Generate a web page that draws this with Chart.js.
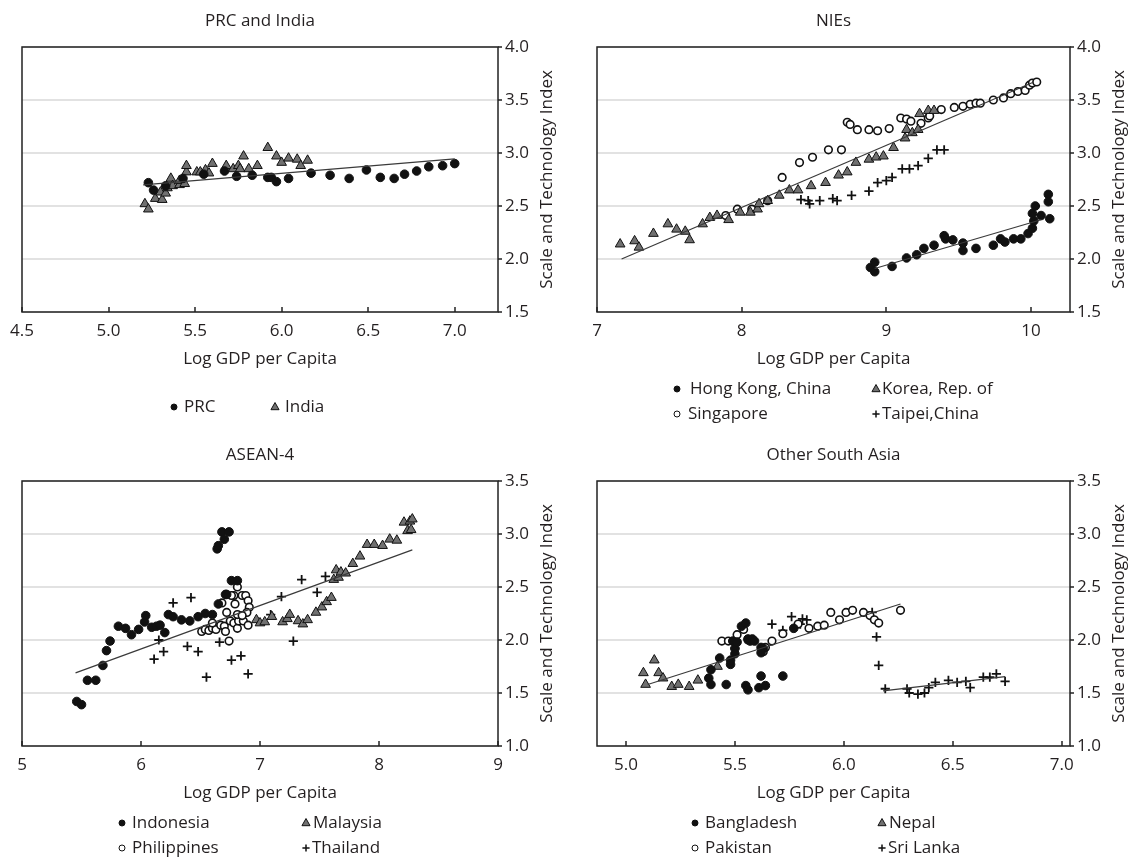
<!DOCTYPE html>
<html>
<head>
<meta charset="utf-8">
<script src="https://cdn.jsdelivr.net/npm/chart.js@4.4.1/dist/chart.umd.min.js"></script>
<style>
  body { margin: 0; background: #fff; }
  .wrap { position: relative; width: 1133px; height: 859px; }
  .wrap canvas { position: absolute; }
</style>
</head>
<body>
<div class="wrap">
  <canvas id="prcChart" style="left:0;top:0" width="566" height="430"></canvas>
  <canvas id="niesChart" style="left:566px;top:0" width="567" height="430"></canvas>
  <canvas id="aseanChart" style="left:0;top:430px" width="566" height="429"></canvas>
  <canvas id="southAsiaChart" style="left:566px;top:430px" width="567" height="429"></canvas>
</div>
<script>
// ---- data: [log GDP per capita, scale and technology index] ----
const prc = [[5.23,2.72],[5.26,2.65],[5.33,2.69],[5.43,2.76],[5.55,2.80],[5.67,2.83],[5.74,2.78],[5.83,2.79],[5.92,2.77],[5.94,2.77],[5.97,2.73],[6.04,2.76],[6.17,2.81],[6.28,2.79],[6.39,2.76],[6.49,2.84],[6.57,2.77],[6.65,2.76],[6.71,2.80],[6.78,2.83],[6.85,2.87],[6.93,2.88],[7.00,2.90]];
const india = [[5.21,2.52],[5.23,2.47],[5.27,2.57],[5.30,2.63],[5.31,2.56],[5.33,2.62],[5.34,2.67],[5.36,2.76],[5.37,2.69],[5.41,2.70],[5.41,2.74],[5.44,2.71],[5.45,2.82],[5.45,2.88],[5.51,2.82],[5.53,2.82],[5.56,2.84],[5.58,2.81],[5.60,2.90],[5.68,2.88],[5.72,2.85],[5.75,2.88],[5.76,2.85],[5.78,2.97],[5.81,2.85],[5.86,2.88],[5.92,3.05],[5.97,2.97],[6.00,2.91],[6.04,2.95],[6.09,2.94],[6.11,2.88],[6.15,2.93]];
const prcIndiaTrend = [[5.20,2.70],[7.00,2.945]];

const hongKong = [[8.89,1.92],[8.92,1.97],[8.92,1.88],[9.04,1.93],[9.14,2.01],[9.21,2.04],[9.26,2.10],[9.33,2.13],[9.40,2.22],[9.41,2.19],[9.46,2.18],[9.53,2.15],[9.53,2.08],[9.62,2.10],[9.74,2.13],[9.79,2.19],[9.82,2.16],[9.88,2.19],[9.93,2.19],[9.98,2.24],[10.01,2.29],[10.02,2.36],[10.01,2.43],[10.03,2.50],[10.07,2.41],[10.12,2.61],[10.12,2.54],[10.13,2.38]];
const korea = [[7.16,2.14],[7.26,2.17],[7.29,2.11],[7.39,2.24],[7.49,2.33],[7.55,2.28],[7.61,2.26],[7.64,2.18],[7.73,2.33],[7.78,2.39],[7.83,2.41],[7.91,2.37],[7.99,2.44],[8.06,2.44],[8.11,2.47],[8.12,2.52],[8.18,2.55],[8.26,2.60],[8.33,2.65],[8.39,2.65],[8.48,2.69],[8.58,2.72],[8.67,2.79],[8.73,2.82],[8.79,2.91],[8.88,2.94],[8.93,2.96],[8.98,2.97],[9.05,3.05],[9.13,3.14],[9.14,3.22],[9.18,3.19],[9.22,3.22],[9.23,3.37],[9.29,3.40],[9.33,3.40]];
const singapore = [[7.89,2.41],[7.97,2.47],[8.07,2.47],[8.18,2.55],[8.28,2.77],[8.40,2.91],[8.49,2.96],[8.60,3.03],[8.69,3.03],[8.73,3.29],[8.75,3.27],[8.80,3.22],[8.88,3.22],[8.94,3.21],[9.02,3.23],[9.10,3.33],[9.14,3.32],[9.17,3.30],[9.24,3.28],[9.29,3.33],[9.30,3.35],[9.38,3.41],[9.47,3.43],[9.53,3.44],[9.58,3.46],[9.62,3.47],[9.65,3.47],[9.74,3.50],[9.81,3.52],[9.86,3.56],[9.91,3.58],[9.96,3.59],[9.99,3.64],[10.01,3.66],[10.04,3.67]];
const taipei = [[8.41,2.56],[8.46,2.55],[8.47,2.52],[8.54,2.55],[8.63,2.57],[8.66,2.55],[8.76,2.60],[8.88,2.64],[8.94,2.72],[9.00,2.74],[9.04,2.77],[9.11,2.85],[9.16,2.85],[9.22,2.88],[9.29,2.95],[9.35,3.03],[9.40,3.03]];
const niesTrend = [[7.17,2.00],[10.02,3.67]];
const hongKongTrend = [[8.92,1.91],[10.07,2.37]];

const indonesia = [[5.46,1.42],[5.50,1.39],[5.55,1.62],[5.62,1.62],[5.68,1.76],[5.71,1.90],[5.74,1.99],[5.81,2.13],[5.87,2.11],[5.92,2.05],[5.98,2.10],[6.03,2.17],[6.04,2.23],[6.09,2.12],[6.13,2.13],[6.16,2.14],[6.20,2.07],[6.23,2.24],[6.27,2.22],[6.34,2.19],[6.41,2.18],[6.48,2.22],[6.54,2.25],[6.60,2.24],[6.65,2.34],[6.64,2.86],[6.65,2.89],[6.68,3.02],[6.70,2.95],[6.74,3.02],[6.71,2.43],[6.72,2.43],[6.76,2.56],[6.81,2.56]];
const malaysia = [[6.97,2.19],[7.00,2.16],[7.04,2.17],[7.10,2.22],[7.19,2.17],[7.23,2.20],[7.25,2.24],[7.32,2.18],[7.36,2.15],[7.40,2.19],[7.47,2.26],[7.52,2.31],[7.56,2.36],[7.60,2.40],[7.62,2.57],[7.64,2.66],[7.66,2.59],[7.68,2.64],[7.72,2.63],[7.78,2.72],[7.84,2.79],[7.90,2.90],[7.96,2.90],[8.03,2.89],[8.09,2.95],[8.15,2.94],[8.21,3.11],[8.24,3.03],[8.26,3.12],[8.27,3.04],[8.28,3.14]];
const philippines = [[6.51,2.08],[6.54,2.10],[6.57,2.09],[6.60,2.11],[6.63,2.10],[6.60,2.16],[6.67,2.14],[6.70,2.13],[6.71,2.08],[6.74,1.99],[6.72,2.26],[6.75,2.18],[6.78,2.16],[6.81,2.11],[6.82,2.18],[6.81,2.24],[6.79,2.34],[6.78,2.42],[6.76,2.42],[6.81,2.50],[6.85,2.42],[6.88,2.42],[6.90,2.37],[6.91,2.31],[6.89,2.26],[6.86,2.18],[6.90,2.14],[6.85,2.23],[6.68,2.35]];
const thailand = [[6.11,1.82],[6.15,2.00],[6.19,1.89],[6.27,2.35],[6.39,1.94],[6.42,2.40],[6.48,1.89],[6.55,1.65],[6.66,1.98],[6.76,1.81],[6.84,1.85],[6.90,1.68],[7.09,2.24],[7.18,2.41],[7.28,1.99],[7.35,2.57],[7.48,2.45],[7.55,2.60]];
const aseanTrend = [[5.45,1.69],[8.28,2.85]];

const bangladesh = [[5.38,1.64],[5.39,1.58],[5.39,1.72],[5.43,1.83],[5.46,1.58],[5.48,1.77],[5.48,1.81],[5.49,1.99],[5.50,1.92],[5.50,1.87],[5.51,1.98],[5.53,2.13],[5.55,2.16],[5.55,1.57],[5.56,1.53],[5.56,2.01],[5.57,1.99],[5.58,2.01],[5.59,1.99],[5.61,1.55],[5.62,1.66],[5.62,1.93],[5.63,1.92],[5.62,1.88],[5.64,1.57],[5.72,1.66],[5.77,2.11]];
const nepal = [[5.08,1.69],[5.13,1.81],[5.15,1.69],[5.17,1.64],[5.09,1.58],[5.21,1.56],[5.24,1.58],[5.29,1.56],[5.33,1.62],[5.42,1.75]];
const pakistan = [[5.44,1.99],[5.47,1.99],[5.51,2.05],[5.54,2.10],[5.56,2.00],[5.63,1.89],[5.64,1.93],[5.67,1.99],[5.72,2.06],[5.79,2.15],[5.84,2.11],[5.88,2.13],[5.91,2.14],[5.94,2.26],[5.98,2.19],[6.01,2.26],[6.04,2.28],[6.09,2.26],[6.12,2.23],[6.14,2.19],[6.16,2.16],[6.26,2.28]];
const sriLanka = [[5.49,1.98],[5.50,1.92],[5.67,2.15],[5.72,2.09],[5.76,2.22],[5.80,2.15],[5.81,2.20],[5.83,2.19],[6.13,2.26],[6.15,2.03],[6.16,1.76],[6.19,1.54],[6.29,1.54],[6.30,1.50],[6.34,1.49],[6.37,1.50],[6.39,1.55],[6.42,1.60],[6.48,1.62],[6.52,1.60],[6.56,1.61],[6.58,1.55],[6.64,1.65],[6.67,1.65],[6.70,1.68],[6.74,1.61]];
const bangladeshTrend = [[5.10,1.58],[6.26,2.34]];
const sriLankaTrend = [[6.18,1.52],[6.74,1.655]];

const INK = '#231f20';
const FONT = '17px "Open Sans", sans-serif';
Chart.defaults.font.family = '"Open Sans", sans-serif';
Chart.defaults.font.size = 17;
Chart.defaults.color = INK;

const pts = arr => arr.map(p => ({x: p[0], y: p[1]}));

// marker looks, shared by the plots and the legends
const markers = {
  dot:   {pointStyle: 'circle',   backgroundColor: '#111', borderColor: '#111', borderWidth: 1,   pointRadius: 4.3},
  ring:  {pointStyle: 'circle',   backgroundColor: '#fff', borderColor: '#111', borderWidth: 1.6, pointRadius: 3.8},
  tri:   {pointStyle: 'triangle', backgroundColor: '#707070', borderColor: '#111', borderWidth: 1, pointRadius: 5.6},
  cross: {pointStyle: 'cross',    backgroundColor: '#111', borderColor: '#111', borderWidth: 1.8, pointRadius: 4.6}
};

function drawMarker(ctx, style, x, y, r) {
  const m = markers[style];
  ctx.save();
  ctx.fillStyle = m.backgroundColor;
  ctx.strokeStyle = m.borderColor;
  ctx.lineWidth = style === 'cross' ? 1.5 : 1;
  ctx.beginPath();
  if (style === 'tri') {
    ctx.moveTo(x, y - r);
    ctx.lineTo(x + r * 0.9, y + r * 0.6);
    ctx.lineTo(x - r * 0.9, y + r * 0.6);
    ctx.closePath();
    ctx.fill(); ctx.stroke();
  } else if (style === 'cross') {
    ctx.moveTo(x - r, y); ctx.lineTo(x + r, y);
    ctx.moveTo(x, y - r); ctx.lineTo(x, y + r);
    ctx.stroke();
  } else {
    ctx.arc(x, y, r, 0, Math.PI * 2);
    ctx.fill(); ctx.stroke();
  }
  ctx.restore();
}

// box, inner x ticks, panel title, rotated y title and legend
const panelDecor = {
  id: 'panelDecor',
  afterDraw(chart, args, opts) {
    const {ctx, chartArea: a} = chart;
    const xs = chart.scales.x;
    ctx.save();
    ctx.strokeStyle = '#222';
    ctx.lineWidth = 1.5;
    xs.ticks.forEach(t => {
      const px = Math.round(xs.getPixelForValue(t.value));
      ctx.beginPath();
      ctx.moveTo(px, a.bottom);
      ctx.lineTo(px, a.bottom - 5);
      ctx.stroke();
    });
    ctx.strokeRect(a.left, a.top, a.right - a.left, a.bottom - a.top);

    ctx.fillStyle = INK;
    ctx.font = FONT;
    ctx.textAlign = 'center';
    ctx.textBaseline = 'middle';
    ctx.fillText(opts.title, (a.left + a.right) / 2, a.top - 26);

    ctx.save();
    ctx.translate(a.right + 49, (a.top + a.bottom) / 2);
    ctx.rotate(-Math.PI / 2);
    ctx.fillText('Scale and Technology Index', 0, 0);
    ctx.restore();

    ctx.textAlign = 'left';
    opts.legend.forEach(item => {
      const r = item.style === 'tri' ? 4.5 : (item.style === 'cross' ? 3.6 : 3);
      drawMarker(ctx, item.style, a.left + item.mx, a.bottom + item.dy, r);
      ctx.fillStyle = INK;
      ctx.fillText(item.label, a.left + item.tx, a.bottom + item.dy);
    });
    ctx.restore();
  }
};

function series(data, style) {
  const m = markers[style];
  return {
    type: 'scatter',
    data: pts(data),
    pointStyle: m.pointStyle,
    backgroundColor: m.backgroundColor,
    borderColor: m.borderColor,
    borderWidth: m.borderWidth,
    pointRadius: m.pointRadius,
    pointHoverRadius: m.pointRadius
  };
}

function trend(data) {
  return {
    type: 'line',
    data: pts(data),
    borderColor: '#3a3a3a',
    borderWidth: 1.2,
    pointRadius: 0,
    fill: false,
    order: -1
  };
}

function makePanel(id, p) {
  const ctx = document.getElementById(id).getContext('2d');
  new Chart(ctx, {
    type: 'scatter',
    data: {datasets: p.datasets},
    options: {
      responsive: false,
      animation: false,
      layout: {padding: p.padding},
      plugins: {
        legend: {display: false},
        tooltip: {enabled: false},
        panelDecor: {title: p.title, legend: p.legend}
      },
      scales: {
        x: {
          type: 'linear',
          min: p.xMin, max: p.xMax,
          border: {display: false},
          grid: {display: false, drawTicks: false},
          ticks: {
            stepSize: p.xStep,
            includeBounds: false,
            padding: 9,
            color: INK,
            callback: v => p.xDigits ? v.toFixed(p.xDigits) : String(v)
          },
          title: {display: true, text: 'Log GDP per Capita', color: INK, padding: {top: 0, bottom: 0}},
          afterFit: s => { s.height = 57; }
        },
        y: {
          type: 'linear',
          position: 'right',
          min: p.yMin, max: p.yMax,
          border: {display: false},
          grid: {color: '#e2e2e2', lineWidth: 2, tickColor: '#222', tickWidth: 1.5, tickLength: 4},
          ticks: {stepSize: 0.5, padding: 3, color: INK, callback: v => v.toFixed(1)},
          afterFit: s => { s.width = 63; }
        }
      }
    },
    plugins: [panelDecor]
  });
}

makePanel('prcChart', {
  title: 'PRC and India',
  padding: {left: 22, top: 47, right: 5, bottom: 61},
  xMin: 4.5, xMax: 7.25, xStep: 0.5, xDigits: 1,
  yMin: 1.5, yMax: 4.0,
  datasets: [trend(prcIndiaTrend), series(prc, 'dot'), series(india, 'tri')],
  legend: [
    {label: 'PRC', style: 'dot', mx: 152, tx: 162, dy: 95},
    {label: 'India', style: 'tri', mx: 253, tx: 263, dy: 95}
  ]
});

makePanel('niesChart', {
  title: 'NIEs',
  padding: {left: 31, top: 47, right: 0, bottom: 61},
  xMin: 7, xMax: 10.27, xStep: 1, xDigits: 0,
  yMin: 1.5, yMax: 4.0,
  datasets: [trend(niesTrend), trend(hongKongTrend), series(hongKong, 'dot'), series(korea, 'tri'), series(singapore, 'ring'), series(taipei, 'cross')],
  legend: [
    {label: 'Hong Kong, China', style: 'dot', mx: 80, tx: 93, dy: 77},
    {label: 'Korea, Rep. of', style: 'tri', mx: 279, tx: 285, dy: 77},
    {label: 'Singapore', style: 'ring', mx: 80, tx: 91, dy: 102},
    {label: 'Taipei,China', style: 'cross', mx: 279, tx: 285, dy: 102}
  ]
});

makePanel('aseanChart', {
  title: 'ASEAN-4',
  padding: {left: 22, top: 51, right: 5, bottom: 56},
  xMin: 5, xMax: 9, xStep: 1, xDigits: 0,
  yMin: 1.0, yMax: 3.5,
  datasets: [trend(aseanTrend), series(indonesia, 'dot'), series(philippines, 'ring'), series(malaysia, 'tri'), series(thailand, 'cross')],
  legend: [
    {label: 'Indonesia', style: 'dot', mx: 100, tx: 110, dy: 77},
    {label: 'Malaysia', style: 'tri', mx: 284, tx: 291, dy: 77},
    {label: 'Philippines', style: 'ring', mx: 100, tx: 110, dy: 102},
    {label: 'Thailand', style: 'cross', mx: 284, tx: 290, dy: 102}
  ]
});

makePanel('southAsiaChart', {
  title: 'Other South Asia',
  padding: {left: 31, top: 51, right: 0, bottom: 56},
  xMin: 4.867, xMax: 7.038, xStep: 0.5, xDigits: 1,
  yMin: 1.0, yMax: 3.5,
  datasets: [trend(bangladeshTrend), trend(sriLankaTrend), series(bangladesh, 'dot'), series(pakistan, 'ring'), series(nepal, 'tri'), series(sriLanka, 'cross')],
  legend: [
    {label: 'Bangladesh', style: 'dot', mx: 98, tx: 108, dy: 77},
    {label: 'Nepal', style: 'tri', mx: 285, tx: 292, dy: 77},
    {label: 'Pakistan', style: 'ring', mx: 98, tx: 108, dy: 102},
    {label: 'Sri Lanka', style: 'cross', mx: 285, tx: 291, dy: 102}
  ]
});
</script>
</body>
</html>
